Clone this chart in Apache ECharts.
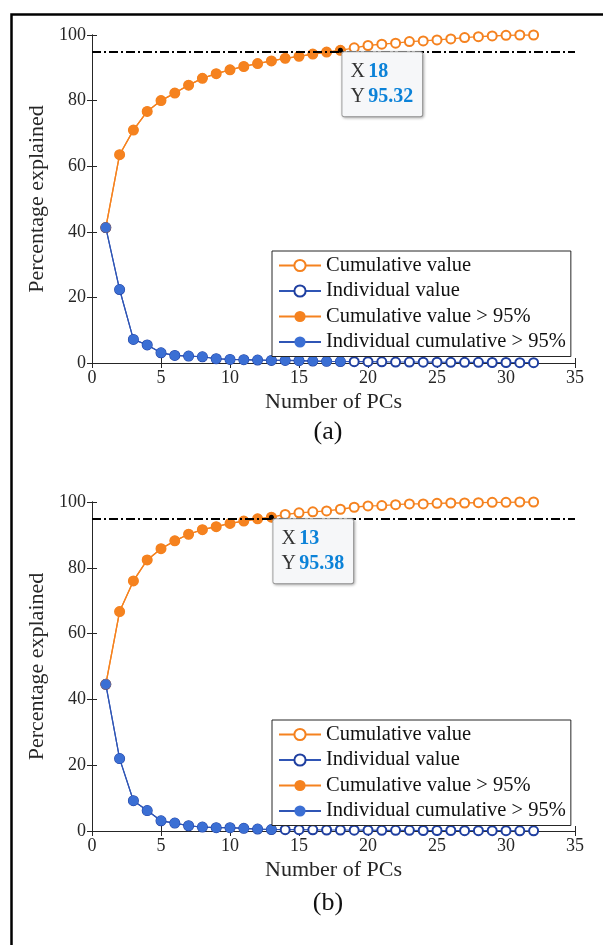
<!DOCTYPE html>
<html>
<head>
<meta charset="utf-8">
<script src="https://cdn.jsdelivr.net/npm/echarts@6/dist/echarts.min.js"></script>
<style>
html,body{margin:0;padding:0;background:#fff;}
#chart{width:603px;height:945px;}
</style>
</head>
<body>
<div id="chart"></div>
<script>
// ---- data ----
const pcs = [1,2,3,4,5,6,7,8,9,10,11,12,13,14,15,16,17,18,19,20,21,22,23,24,25,26,27,28,29,30,31,32];
const cumA = [41.3,63.5,71.0,76.7,80.0,82.3,84.7,86.8,88.2,89.4,90.4,91.3,92.1,92.9,93.5,94.2,94.8,95.32,96.1,96.8,97.2,97.5,98.0,98.2,98.5,98.8,99.2,99.5,99.7,99.9,100.0,100.0];
const indA = [41.3,22.4,7.2,5.5,3.1,2.3,2.1,1.9,1.3,1.1,1.0,0.9,0.8,0.8,0.7,0.6,0.5,0.45,0.4,0.4,0.35,0.3,0.3,0.25,0.25,0.2,0.2,0.2,0.15,0.15,0.1,0.1];
const thrA = 18;
const cumB = [44.6,66.7,76.0,82.4,85.8,88.2,90.2,91.6,92.5,93.5,94.2,94.9,95.38,96.2,96.7,97.0,97.3,97.8,98.4,98.8,98.9,99.2,99.4,99.4,99.6,99.7,99.7,99.8,99.9,99.9,100.0,100.0];
const indB = [44.6,22.0,9.2,6.2,3.1,2.4,1.6,1.2,1.0,1.0,0.8,0.6,0.45,0.4,0.4,0.35,0.3,0.3,0.25,0.25,0.2,0.2,0.2,0.15,0.15,0.15,0.1,0.1,0.1,0.1,0.05,0.05];
const thrB = 13;
const threshold = 95;
const xTicks = [0,5,10,15,20,25,30,35];
const yTicks = [0,20,40,60,80,100];
const seriesNames = ['Cumulative value','Individual value','Cumulative value > 95%','Individual cumulative > 95%'];
const panelLabels = ['(a)','(b)'];

// ---- styles ----
const FONT = 'Liberation Serif';
const ORANGE = '#f5821f';
const BLUE_FILL = '#3b6fd4';
const BLUE_EMPTY = '#1f3fa0';
const BLUE_LINE = '#2f55b5';
const AXIS = '#262626';

const chart = echarts.init(document.getElementById('chart'), null, {renderer:'canvas'});

const grids = [
  {left:92, top:35, width:483, height:328},
  {left:92, top:502, width:483, height:329}
];

function xAxes(gi){
  const base = {type:'value', gridIndex:gi, min:xTicks[0], max:xTicks[xTicks.length-1], interval:xTicks[1]-xTicks[0],
    splitLine:{show:false}, axisLine:{lineStyle:{color:AXIS,width:1}},
    axisTick:{inside:true,length:5,lineStyle:{color:AXIS}}};
  return [
    Object.assign({}, base, {position:'bottom',
      axisLabel:{fontFamily:FONT,fontSize:18,color:AXIS,margin:6},
      name:'Number of PCs', nameLocation:'middle', nameGap:28,
      nameTextStyle:{fontFamily:FONT,fontSize:22,color:AXIS}}),
    Object.assign({}, base, {position:'top', axisLabel:{show:false}})
  ];
}
function yAxes(gi){
  const base = {type:'value', gridIndex:gi, min:yTicks[0], max:yTicks[yTicks.length-1], interval:yTicks[1]-yTicks[0],
    splitLine:{show:false}, axisLine:{show:true,lineStyle:{color:AXIS,width:1}},
    axisTick:{show:true,inside:true,length:5,lineStyle:{color:AXIS}}};
  return [
    Object.assign({}, base, {position:'left',
      axisLabel:{fontFamily:FONT,fontSize:18,color:AXIS,margin:6},
      name:'Percentage explained', nameLocation:'middle', nameGap:44,
      nameTextStyle:{fontFamily:FONT,fontSize:22,color:AXIS}}),
    Object.assign({}, base, {position:'right', axisLabel:{show:false}})
  ];
}

function panelSeries(gi, cum, ind, thr){
  const xi = gi*2, yi = gi*2;
  const pair = (arr, n) => arr.slice(0, n).map((v,i)=>[pcs[i], v]);
  const n = pcs.length;
  const tipX = pcs[thr-1], tipY = cum[thr-1];
  return [
    {name:seriesNames[0], type:'line', xAxisIndex:xi, yAxisIndex:yi, data:pair(cum,n),
     symbol:'emptyCircle', symbolSize:9, showAllSymbol:true, color:ORANGE,
     itemStyle:{color:ORANGE, borderWidth:1.8},
     lineStyle:{color:ORANGE,width:1.3}, animation:false,
     markLine:{silent:true, symbol:'none', animation:false, label:{show:false},
       lineStyle:{color:'#000', type:[9,3,2,3], width:1.8},
       data:[{yAxis:threshold}]}},
    {name:seriesNames[1], type:'line', xAxisIndex:xi, yAxisIndex:yi, data:pair(ind,n),
     symbol:'emptyCircle', symbolSize:9, showAllSymbol:true, color:BLUE_EMPTY,
     itemStyle:{color:BLUE_EMPTY, borderWidth:1.6},
     lineStyle:{color:BLUE_LINE,width:1.2}, animation:false},
    {name:seriesNames[2], type:'line', xAxisIndex:xi, yAxisIndex:yi, data:pair(cum,thr),
     symbol:'circle', symbolSize:10, showAllSymbol:true, color:ORANGE,
     itemStyle:{color:ORANGE}, lineStyle:{color:ORANGE,width:1.3}, animation:false,
     markPoint:{animation:false, silent:true, symbol:'circle', symbolSize:5,
       itemStyle:{color:'#000'},
       data:[{coord:[tipX, tipY]}],
       label:{show:true, position:[4.5,4.5], align:'left', verticalAlign:'top',
         formatter:'{k|X} {v|' + tipX + '}\n{k|Y} {v|' + tipY.toFixed(2) + '}',
         backgroundColor:'#f6f7f9', borderColor:'#a8a8a8', borderWidth:1, borderRadius:2,
         padding:[7,9,7,8], lineHeight:25,
         shadowBlur:3, shadowColor:'rgba(0,0,0,0.25)', shadowOffsetX:1, shadowOffsetY:1,
         rich:{
           k:{fontFamily:FONT, fontSize:20, color:'#333', lineHeight:25},
           v:{fontFamily:FONT, fontSize:20, fontWeight:'bold', color:'#0b82d8', lineHeight:25}
         }}}},
    {name:seriesNames[3], type:'line', xAxisIndex:xi, yAxisIndex:yi, data:pair(ind,thr),
     symbol:'circle', symbolSize:10, showAllSymbol:true, color:BLUE_FILL,
     itemStyle:{color:BLUE_FILL}, lineStyle:{color:BLUE_LINE,width:1.2}, animation:false}
  ];
}

function legendFor(top){
  return {show:true, orient:'vertical', left:272, top:top, data:seriesNames,
    backgroundColor:'#fff', borderColor:AXIS, borderWidth:1, borderRadius:0,
    padding:[4,5,4,6], itemWidth:42, itemHeight:14, itemGap:4.5,
    textStyle:{fontFamily:FONT, fontSize:20.5, color:'#111', lineHeight:20},
    selectedMode:false};
}

const option = {
  animation:false,
  backgroundColor:'#fff',
  grid:grids,
  xAxis:[...xAxes(0), ...xAxes(1)],
  yAxis:[...yAxes(0), ...yAxes(1)],
  legend:[legendFor(251), legendFor(720)],
  series:[...panelSeries(0, cumA, indA, thrA), ...panelSeries(1, cumB, indB, thrB)],
  graphic:[
    {type:'rect', left:9, top:12, shape:{width:700, height:1000},
     style:{fill:'none', stroke:'#000', lineWidth:2.5}, silent:true, z:100},
    {type:'text', x:328, y:432, style:{text:panelLabels[0], font:'26px "Liberation Serif"', fill:'#111', textAlign:'center', textVerticalAlign:'middle'}},
    {type:'text', x:328, y:903, style:{text:panelLabels[1], font:'26px "Liberation Serif"', fill:'#111', textAlign:'center', textVerticalAlign:'middle'}}
  ]
};
chart.setOption(option);
</script>
</body>
</html>
